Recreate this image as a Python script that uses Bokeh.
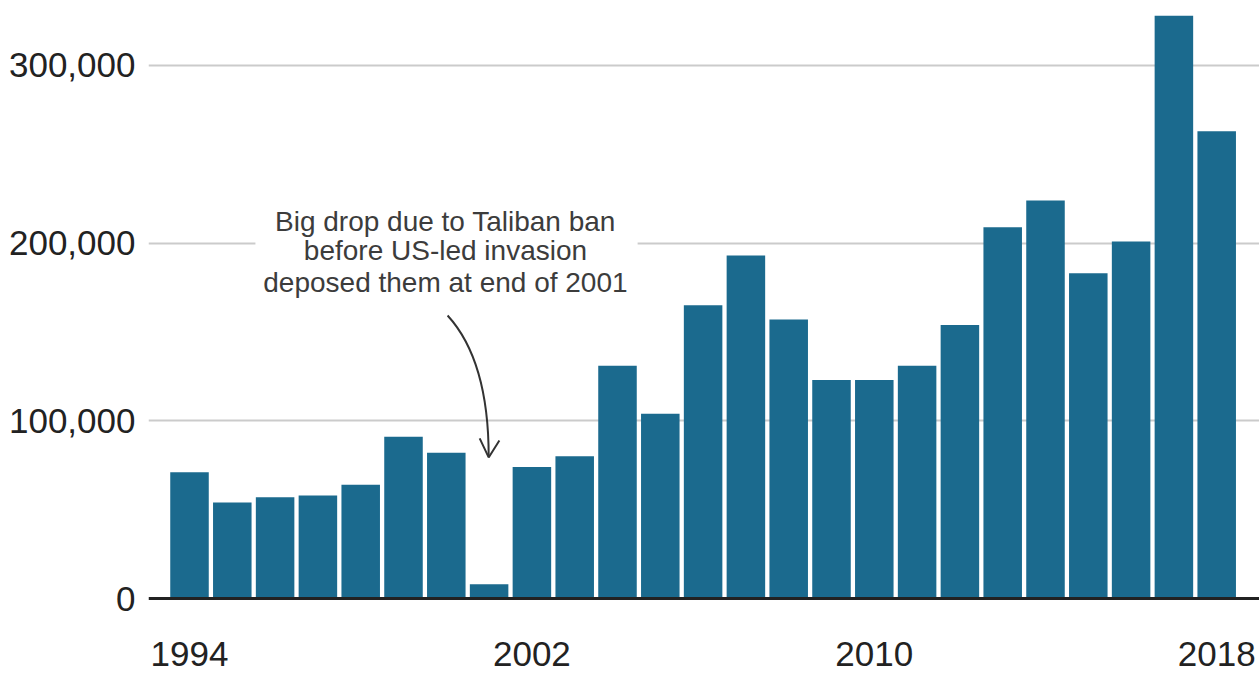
from bokeh.plotting import figure
from bokeh.models import FixedTicker, NumeralTickFormatter, Range1d
from bokeh.core.properties import value
from bokeh.embed import file_html
from bokeh.resources import INLINE

# ---- data ----
years = [1994, 1995, 1996, 1997, 1998, 1999, 2000, 2001, 2002, 2003, 2004, 2005, 2006,
         2007, 2008, 2009, 2010, 2011, 2012, 2013, 2014, 2015, 2016, 2017, 2018]
hectares = [71000, 54000, 57000, 58000, 64000, 91000, 82000, 8000, 74000, 80000, 131000,
            104000, 165000, 193000, 157000, 123000, 123000, 131000, 154000, 209000,
            224000, 183000, 201000, 328000, 263000]
x_ticks = [1994, 2002, 2010, 2018]
y_ticks = [0, 100000, 200000, 300000]
note_lines = ["Big drop due to Taliban ban",
              "before US-led invasion",
              "deposed them at end of 2001"]

BAR = "#1b6a8e"
FONT = "Liberation Sans"

p = figure(width=1259, height=673,
           x_range=Range1d(1993.042, 2019.0),
           y_range=Range1d(-42213, 336580),
           output_backend="svg", toolbar_location=None,
           min_border_left=148, min_border_right=0,
           min_border_top=0, min_border_bottom=0)
p.outline_line_color = None
p.background_fill_color = "white"
p.border_fill_color = "white"

# grid
p.xgrid.visible = False
p.ygrid.ticker = FixedTicker(ticks=y_ticks[1:])
p.ygrid.grid_line_color = "#cbcbcb"
p.ygrid.grid_line_width = 2

# x axis at y = 0
xa = p.xaxis[0]
xa.fixed_location = 0
xa.ticker = FixedTicker(ticks=x_ticks)
xa.axis_line_color = "#222222"
xa.axis_line_width = 3
xa.major_tick_line_color = None
xa.major_tick_out = 0
xa.major_tick_in = 0
xa.minor_tick_line_color = None
xa.major_label_standoff = 43
xa.major_label_text_font = FONT
xa.major_label_text_font_size = "35px"
xa.major_label_text_color = "#222222"

# y axis
ya = p.yaxis[0]
ya.ticker = FixedTicker(ticks=y_ticks)
ya.formatter = NumeralTickFormatter(format="0,0")
ya.axis_line_color = None
ya.major_tick_line_color = None
ya.major_tick_out = 0
ya.major_tick_in = 0
ya.minor_tick_line_color = None
ya.major_label_standoff = 13
ya.major_label_text_font = FONT
ya.major_label_text_font_size = "35px"
ya.major_label_text_color = "#222222"

# bars
p.vbar(x=years, top=hectares, bottom=0, width=0.9, fill_color=BAR, line_color=None)

# annotation: white box breaking the gridline, text, arrow
p.quad(left=[1995.54], right=[2004.47], bottom=[167700], top=[226000],
       fill_color="white", line_color=None)
p.text(x=[1999.98] * 3, y=[212200, 195900, 177900], text=note_lines,
       text_align="center", text_baseline="middle",
       text_font=value(FONT), text_font_size="28px", text_color="#3c3c3c")
p.quadratic(x0=[2000.03], y0=[159300], x1=[2000.99], y1=[79900],
            cx=[2000.99], cy=[134000], line_color="#333333", line_width=2)
p.multi_line(xs=[[2000.78, 2000.99, 2001.24]], ys=[[90100, 79400, 88900]],
             line_color="#333333", line_width=2)

open("out.html", "w").write(file_html(p, INLINE))
